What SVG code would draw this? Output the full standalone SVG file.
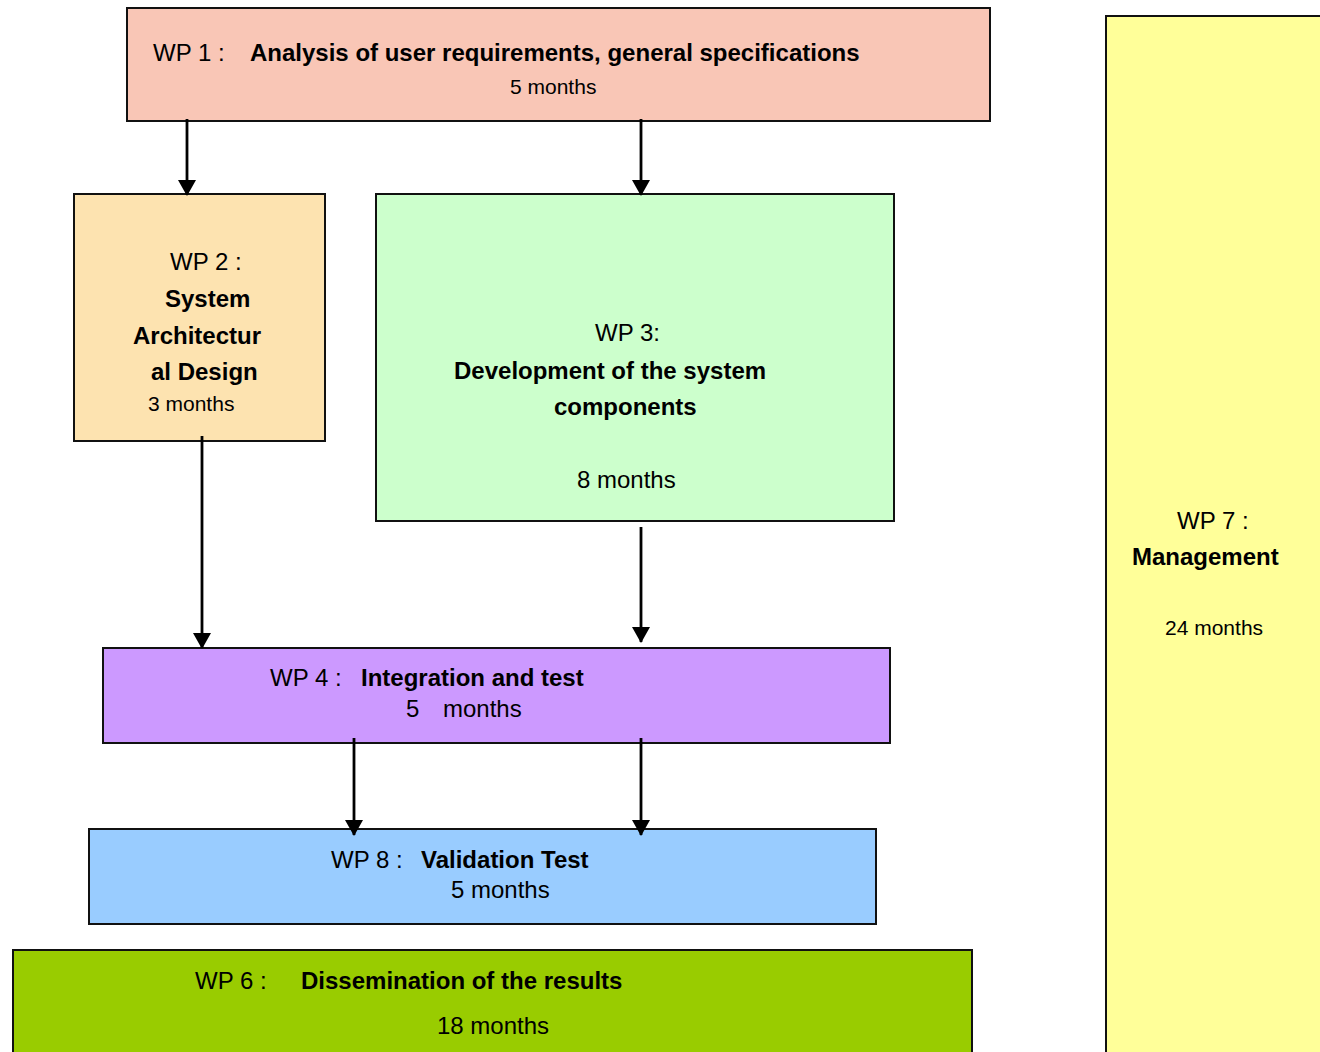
<svg xmlns="http://www.w3.org/2000/svg" width="1320" height="1052" viewBox="0 0 1320 1052">
<defs>
<style>
.box{stroke:#111;stroke-width:2}
text{font-family:"Liberation Sans",Arial,sans-serif;fill:#000}
.r{font-size:24px}
.b{font-size:24px;font-weight:bold}
.s{font-size:21px}
.c{stroke:#000;stroke-width:2.8;fill:none}
</style>
<marker id="arr" viewBox="0 0 16 18" refX="15" refY="9" markerWidth="16" markerHeight="18" markerUnits="userSpaceOnUse" orient="auto">
<path d="M0,0 L16,9 L0,18 z" fill="#000"/>
</marker>
</defs>
<rect width="1320" height="1052" fill="#fff"/>
<g id="wp1">
<rect class="box" x="127" y="8" width="863" height="113" fill="#F9C6B6"/>
<text class="r" x="153" y="61">WP 1 :</text>
<text class="b" x="250" y="61">Analysis of user requirements, general specifications</text>
<text class="s" x="510" y="94">5 months</text>
</g>
<g id="wp2">
<rect class="box" x="74" y="194" width="251" height="247" fill="#FDE3B0"/>
<text class="r" x="170" y="270">WP 2 :</text>
<text class="b" x="165" y="307">System</text>
<text class="b" x="133" y="344">Architectur</text>
<text class="b" x="151" y="380">al Design</text>
<text class="s" x="148" y="411">3 months</text>
</g>
<g id="wp3">
<rect class="box" x="376" y="194" width="518" height="327" fill="#CCFFCC"/>
<text class="r" x="595" y="341">WP 3:</text>
<text class="b" x="454" y="379">Development of the system</text>
<text class="b" x="554" y="415">components</text>
<text class="r" x="577" y="488">8 months</text>
</g>
<g id="wp4">
<rect class="box" x="103" y="648" width="787" height="95" fill="#CC99FF"/>
<text class="r" x="270" y="686">WP 4 :</text>
<text class="b" x="361" y="686">Integration and test</text>
<text class="r" x="406" y="717">5</text>
<text class="r" x="443" y="717">months</text>
</g>
<g id="wp8">
<rect class="box" x="89" y="829" width="787" height="95" fill="#99CCFF"/>
<text class="r" x="331" y="868">WP 8 :</text>
<text class="b" x="421" y="868">Validation Test</text>
<text class="r" x="451" y="898">5 months</text>
</g>
<g id="wp6">
<rect class="box" x="13" y="950" width="959" height="110" fill="#99CC00"/>
<text class="r" x="195" y="989">WP 6 :</text>
<text class="b" x="301" y="989">Dissemination of the results</text>
<text class="r" x="437" y="1034">18 months</text>
</g>
<g id="wp7">
<rect class="box" x="1106" y="16" width="230" height="1050" fill="#FFFF99"/>
<text class="r" x="1177" y="529">WP 7 :</text>
<text class="b" x="1132" y="565">Management</text>
<text class="s" x="1165" y="635">24 months</text>
</g>
<g id="connectors">
<line class="c" x1="187" y1="119" x2="187" y2="195" marker-end="url(#arr)"/>
<line class="c" x1="641" y1="119" x2="641" y2="195" marker-end="url(#arr)"/>
<line class="c" x1="202" y1="436" x2="202" y2="648" marker-end="url(#arr)"/>
<line class="c" x1="641" y1="527" x2="641" y2="642" marker-end="url(#arr)"/>
<line class="c" x1="354" y1="738" x2="354" y2="835" marker-end="url(#arr)"/>
<line class="c" x1="641" y1="738" x2="641" y2="835" marker-end="url(#arr)"/>
</g>
</svg>
